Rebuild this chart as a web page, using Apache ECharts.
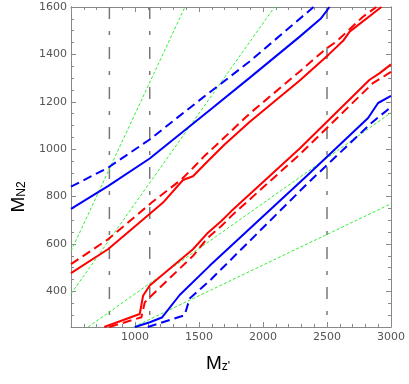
<!DOCTYPE html>
<html>
<head>
<meta charset="utf-8">
<script src="https://cdn.jsdelivr.net/npm/echarts@6/dist/echarts.min.js"></script>
<style>
  html, body { margin: 0; padding: 0; background: #fff; }
  #chart { width: 409px; height: 384px; }
</style>
</head>
<body>
<div id="chart"></div>
<script>
// axis ticks
const xMin = 500, xMax = 3000;
const yMin = 250, yMax = 1600;
const yMajor = [400, 600, 800, 1000, 1200, 1400, 1600];
const yMinor = [300, 350, 450, 500, 550, 650, 700, 750, 850, 900, 950, 1050, 1100, 1150,
                1250, 1300, 1350, 1450, 1500, 1550];

// upper pair (blue / red), solid and dashed
const blueSolidUp = [[500, 748], [789, 844], [1115, 961], [1600, 1172], [1895, 1301],
                     [2287, 1475], [2450, 1550], [2520, 1600]];
const blueDashUp = [[500, 842], [789, 922], [1115, 1041], [1500, 1205], [1895, 1370],
                    [2395, 1600]];
const redSolidUp = [[500, 477], [789, 578], [1116, 728], [1219, 775], [1375, 870],
                    [1453, 886], [1570, 950], [1700, 1020], [1895, 1115], [2287, 1290],
                    [2510, 1398], [2630, 1460], [2677, 1496], [2925, 1600]];
const redDashUp = [[500, 515], [789, 620], [1128, 774], [1362, 872], [1466, 928],
                   [1540, 970], [1636, 1018], [1895, 1150], [2287, 1328], [2495, 1425],
                   [2573, 1454], [2781, 1559], [2886, 1600]];

// lower pair
const redSolidLow = [[760, 250], [1037, 305], [1063, 382], [1115, 425], [1453, 578],
                     [1570, 648], [1675, 697], [1753, 739], [2287, 1003], [2833, 1293],
                     [2912, 1321], [3000, 1358]];
const redDashLow = [[800, 250], [1050, 291], [1076, 354], [1128, 382], [1453, 550],
                    [1570, 627], [1675, 676], [1766, 725], [2287, 978], [2859, 1279],
                    [3000, 1326]];
const blueSolidLow = [[1000, 250], [1116, 270], [1210, 290], [1349, 385], [1583, 508],
                      [2339, 886], [2821, 1132], [2899, 1195], [3000, 1225]];
const blueDashLow = [[1100, 250], [1388, 300], [1427, 370], [1583, 445], [2339, 851],
                     [2847, 1111], [3000, 1178]];

// green dotted straight lines
const greenLines = [
  [[500, 570], [1390, 1600]],
  [[500, 390], [2090, 1600]],
  [[634, 250], [3000, 1154]],
  [[990, 250], [3000, 770]]
];

// vertical dash-dot markers
const vLines = [800, 1115, 2500];

const RED = '#ff0000', BLUE = '#0000ff', GREEN = '#33ee33', GRAY = '#777';
const AXIS = '#888';

const chart = echarts.init(document.getElementById('chart'));

function curve(data, color, dashed) {
  return {
    type: 'line', data: data, showSymbol: false, symbol: 'none',
    lineStyle: { color: color, width: 2, type: dashed ? [9, 5] : 'solid' },
    clip: true, silent: true
  };
}

const series = [];
vLines.forEach(x => {
  series.push({
    type: 'line', data: [[x, yMax], [x, yMin]], symbol: 'none',
    lineStyle: { color: GRAY, width: 1.5, type: [12, 12, 4, 12] }, silent: true
  });
});
greenLines.forEach(d => {
  series.push({
    type: 'line', data: d, symbol: 'none', clip: true,
    lineStyle: { color: GREEN, width: 1, type: [3, 2] }, silent: true
  });
});
series.push(curve(blueSolidUp, BLUE, false));
series.push(curve(blueDashUp, BLUE, true));
series.push(curve(redSolidUp, RED, false));
series.push(curve(redDashUp, RED, true));
series.push(curve(redSolidLow, RED, false));
series.push(curve(redDashLow, RED, true));
series.push(curve(blueSolidLow, BLUE, false));
series.push(curve(blueDashLow, BLUE, true));

const labelStyle = { color: '#555', fontSize: 11, fontFamily: 'DejaVu Sans' };

function xAx(pos, labels) {
  return {
    type: 'value', position: pos, min: xMin, max: xMax, interval: 500,
    axisLine: { show: true, onZero: false, lineStyle: { color: AXIS, width: 1 } },
    axisTick: { show: true, inside: true, length: 5, lineStyle: { color: AXIS } },
    minorTick: { show: true, splitNumber: 5, length: 3, lineStyle: { color: AXIS } },
    axisLabel: labels ? Object.assign({
      margin: 5, formatter: v => (v === xMin ? '' : String(v))
    }, labelStyle) : { show: false },
    splitLine: { show: false },
    name: labels ? "{m|M}{s|z'}" : '',
    nameLocation: 'middle', nameGap: 27,
    nameTextStyle: {
      padding: [0, 26, 0, 0],
      rich: {
        m: { fontSize: 19, fontFamily: 'Liberation Sans', color: '#000' },
        s: { fontSize: 12, fontFamily: 'Liberation Sans', color: '#000',
             verticalAlign: 'bottom' }
      }
    }
  };
}

function yAx(pos, values, len, labels, name) {
  return {
    type: 'value', position: pos, min: yMin, max: yMax,
    axisLine: { show: true, onZero: false, lineStyle: { color: AXIS, width: 1 } },
    axisTick: { show: true, inside: true, length: len, customValues: values,
                lineStyle: { color: AXIS } },
    axisLabel: labels ? Object.assign({
      margin: 4, customValues: yMajor, formatter: v => String(v)
    }, labelStyle) : { show: false },
    splitLine: { show: false },
    name: name ? '{m|M}{s|N2}' : '',
    nameLocation: 'middle', nameGap: 31, nameRotate: 90,
    nameTextStyle: {
      padding: [0, 60, 0, 0],
      rich: {
        m: { fontSize: 19, fontFamily: 'Liberation Sans', color: '#000' },
        s: { fontSize: 12, fontFamily: 'Liberation Sans', color: '#000',
             verticalAlign: 'bottom' }
      }
    }
  };
}

chart.setOption({
  animation: false,
  backgroundColor: '#fff',
  grid: { left: 71, right: 18, top: 7, bottom: 57, containLabel: false },
  xAxis: [xAx('bottom', true), xAx('top', false)],
  yAxis: [
    yAx('left', yMajor, 5, true, true),
    yAx('right', yMajor, 5, false, false),
    yAx('left', yMinor, 3, false, false),
    yAx('right', yMinor, 3, false, false)
  ],
  series: series
});
</script>
</body>
</html>
